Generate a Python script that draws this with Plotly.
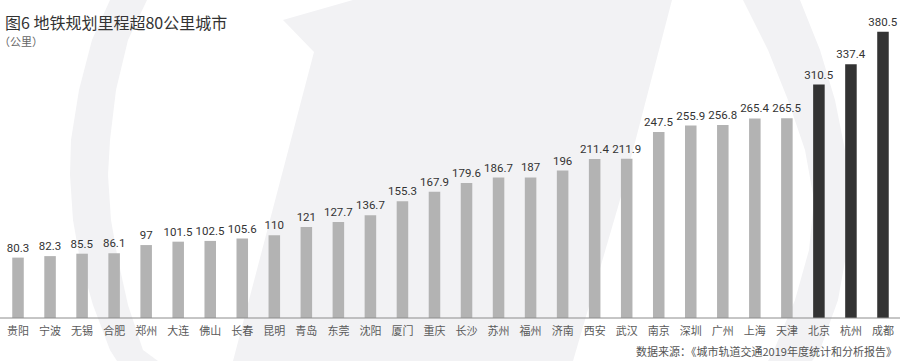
import plotly.graph_objects as go

cities = ["贵阳", "宁波", "无锡", "合肥", "郑州", "大连", "佛山", "长春", "昆明", "青岛",
          "东莞", "沈阳", "厦门", "重庆", "长沙", "苏州", "福州", "济南", "西安", "武汉",
          "南京", "深圳", "广州", "上海", "天津", "北京", "杭州", "成都"]
mileage = [80.3, 82.3, 85.5, 86.1, 97, 101.5, 102.5, 105.6, 110, 121,
           127.7, 136.7, 155.3, 167.9, 179.6, 186.7, 187, 196, 211.4, 211.9,
           247.5, 255.9, 256.8, 265.4, 265.5, 310.5, 337.4, 380.5]
highlight = ["北京", "杭州", "成都"]

title_text = "图6 地铁规划里程超80公里城市"
unit_text = "（公里）"
source_text = "数据来源：《城市轨道交通2019年度统计和分析报告》"

W, H = 900, 361
ML, MR, MT, MB = 2, 1, 0, 43
PW, PH = W - ML - MR, H - MT - MB

GRAY = "#b3b3b3"
DARK = "#333333"
WM = "#f2f2f4"


def px2paper(pts):
    return [((x - ML) / PW, (H - MB - y) / PH) for x, y in pts]


def path_from(pts):
    p = px2paper(pts)
    s = "M %.5f %.5f " % p[0]
    for x, y in p[1:]:
        s += "L %.5f %.5f " % (x, y)
    return s + "Z"


# decorative watermark (pixel outlines)
left_band = [(110, 0), (92, 40), (79, 90), (71, 140), (70, 175), (73, 220), (80, 260),
             (93, 305), (110, 350), (117, 361),
             (158, 361), (143, 350), (128, 305), (118, 260), (111, 220), (108, 175),
             (110, 140), (116, 90), (128, 40), (147, 0)]
right_band = [(743, 0), (768, 50), (788, 100), (805, 150), (814, 200), (809, 250),
              (795, 300), (774, 350), (768, 361),
              (812, 361), (820, 350), (838, 300), (847, 250), (850, 200), (845, 150),
              (835, 100), (820, 50), (800, 0)]
arrow = [(353, 0), (283, 20), (314, 52), (233, 361), (573, 361), (620, 200), (672, 0)]

shapes = []
for poly in (left_band, right_band, arrow):
    shapes.append(dict(type="path", xref="paper", yref="paper", path=path_from(poly),
                       fillcolor=WM, line=dict(width=0), layer="below"))
# baseline
shapes.append(dict(type="line", xref="paper", yref="paper",
                   x0=(0 - ML) / PW, x1=(W - ML) / PW, y0=0, y1=0,
                   line=dict(color="#8c8c8c", width=1), layer="above"))

colors = [DARK if c in highlight else GRAY for c in cities]
labels = [f"{v:g}" for v in mileage]

fig = go.Figure(go.Bar(
    x=cities, y=mileage, marker=dict(color=colors, line=dict(width=0)),
    text=labels, textposition="outside", constraintext="none", cliponaxis=False,
    textfont=dict(family="Roboto, sans-serif", size=11.5, color="#333333"),
    hoverinfo="skip",
))

fig.update_layout(
    width=W, height=H, margin=dict(l=ML, r=MR, t=MT, b=MB),
    paper_bgcolor="white", plot_bgcolor="rgba(0,0,0,0)",
    bargap=0.64, showlegend=False, shapes=shapes,
    font=dict(family="Noto Sans CJK SC, sans-serif"),
    xaxis=dict(range=[-0.5, len(cities) - 0.5], showline=False, showgrid=False,
               zeroline=False, ticks="", fixedrange=True, ticklabelstandoff=5,
               tickfont=dict(family="Noto Sans CJK SC", size=11, color="#5a5a5a")),
    yaxis=dict(range=[0, PH / 0.752], visible=False, fixedrange=True),
    annotations=[
        dict(text=title_text, xref="paper", yref="paper", x=(3 - ML) / PW,
             y=(H - MB - 22) / PH, xanchor="left", yanchor="middle", showarrow=False,
             font=dict(family="Noto Sans CJK SC", size=16, color="#333333")),
        dict(text=unit_text, xref="paper", yref="paper", x=(-3 - ML) / PW,
             y=(H - MB - 41) / PH, xanchor="left", yanchor="middle", showarrow=False,
             font=dict(family="Noto Sans CJK SC", size=11, color="#666666")),
        dict(text=source_text, xref="paper", yref="paper", x=(899 - ML) / PW,
             y=(H - MB - 351) / PH, xanchor="right", yanchor="middle", showarrow=False,
             font=dict(family="Noto Sans CJK SC", size=11, color="#555555")),
    ],
)

fig.write_html("out.html")
